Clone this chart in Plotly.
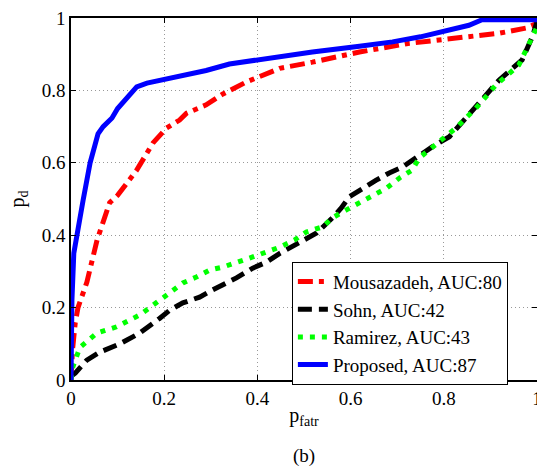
import plotly.graph_objects as go

# ---- data ----
mous_x = [0, 0.003, 0.009, 0.015, 0.034, 0.056, 0.083, 0.10, 0.12, 0.141, 0.176, 0.205, 0.233, 0.248,
          0.29, 0.326, 0.376, 0.448, 0.518, 0.619, 0.726, 0.833, 0.919, 0.976, 1.0]
mous_y = [0, 0.08, 0.157, 0.2, 0.27, 0.387, 0.49, 0.51, 0.544, 0.58, 0.655, 0.696, 0.718, 0.737,
          0.76, 0.79, 0.823, 0.861, 0.878, 0.906, 0.93, 0.944, 0.958, 0.972, 0.985]

sohn_x = [0, 0.009, 0.034, 0.062, 0.105, 0.148, 0.19, 0.212, 0.24, 0.276, 0.304, 0.334, 0.355, 0.39,
          0.42, 0.448, 0.48, 0.505, 0.527, 0.561, 0.58, 0.597, 0.625, 0.655, 0.683, 0.711, 0.743,
          0.775, 0.812, 0.869, 0.919, 0.968, 0.99, 1.0]
sohn_y = [0.01, 0.019, 0.055, 0.077, 0.10, 0.13, 0.17, 0.193, 0.213, 0.229, 0.249, 0.268, 0.282, 0.309,
          0.326, 0.35, 0.373, 0.392, 0.406, 0.448, 0.475, 0.506, 0.53, 0.552, 0.572, 0.588, 0.616,
          0.644, 0.672, 0.754, 0.829, 0.884, 0.948, 0.99]

ram_x = [0, 0.004, 0.019, 0.056, 0.098, 0.148, 0.19, 0.212, 0.24, 0.27, 0.298, 0.326, 0.362, 0.39,
         0.42, 0.448, 0.48, 0.505, 0.54, 0.561, 0.591, 0.619, 0.647, 0.677, 0.705, 0.732, 0.747,
         0.797, 0.826, 0.869, 0.912, 0.961, 0.983, 1.0]
ram_y = [0.0, 0.036, 0.09, 0.13, 0.147, 0.18, 0.22, 0.243, 0.268, 0.285, 0.304, 0.312, 0.326, 0.34,
         0.354, 0.367, 0.387, 0.409, 0.423, 0.448, 0.47, 0.489, 0.506, 0.53, 0.558, 0.58, 0.613,
         0.668, 0.696, 0.751, 0.815, 0.87, 0.931, 0.975]

prop_x = [0, 0.002, 0.006, 0.013, 0.02, 0.026, 0.041, 0.05, 0.058, 0.069, 0.088, 0.10, 0.12, 0.141,
          0.163, 0.2, 0.233, 0.29, 0.34, 0.4, 0.448, 0.518, 0.619, 0.69, 0.75, 0.797, 0.854, 0.882, 1.0]
prop_y = [0, 0.22, 0.35, 0.406, 0.45, 0.497, 0.60, 0.65, 0.68, 0.70, 0.724, 0.75, 0.78, 0.81,
          0.82, 0.83, 0.84, 0.855, 0.873, 0.885, 0.893, 0.906, 0.922, 0.934, 0.948, 0.961, 0.98, 0.995, 0.995]

names = ["Mousazadeh, AUC:80", "Sohn, AUC:42", "Ramirez, AUC:43", "Proposed, AUC:87"]
tick_vals = [0, 0.2, 0.4, 0.6, 0.8, 1]
tick_text = ["0", "0.2", "0.4", "0.6", "0.8", "1"]

FONT = "Liberation Serif, 'Times New Roman', Times, serif"

fig = go.Figure()
fig.add_trace(go.Scatter(x=mous_x, y=mous_y, mode="lines", name=names[0],
                         line=dict(color="#ff0000", width=5, dash="15px,6px,5px,6px")))
fig.add_trace(go.Scatter(x=sohn_x, y=sohn_y, mode="lines", name=names[1],
                         line=dict(color="#000000", width=5, dash="14px,7px")))
fig.add_trace(go.Scatter(x=ram_x, y=ram_y, mode="lines", name=names[2],
                         line=dict(color="#00ff00", width=5, dash="5px,7px")))
fig.add_trace(go.Scatter(x=prop_x, y=prop_y, mode="lines", name=names[3],
                         line=dict(color="#0000ff", width=5)))

axis_common = dict(
    range=[0, 1], tickvals=tick_vals, ticktext=tick_text,
    showline=True, linecolor="black", linewidth=1.5, mirror="ticks",
    ticks="inside", ticklen=5, tickcolor="black",
    showgrid=True, gridcolor="#999999", griddash="1px,3px", gridwidth=1,
    zeroline=False, tickfont=dict(family=FONT, size=19, color="black"),
    automargin=False,
)

fig.update_xaxes(**axis_common, ticklabeloverflow="allow",
                 title=dict(text="p<sub>fatr</sub>", font=dict(family=FONT, size=20, color="black"),
                            standoff=0))
fig.update_yaxes(**axis_common,
                 title=dict(text="p<sub>d</sub>", font=dict(family=FONT, size=20, color="black"),
                            standoff=12))

fig.update_layout(
    width=537, height=466,
    margin=dict(l=71, r=0, t=18, b=86),
    plot_bgcolor="white", paper_bgcolor="white",
    font=dict(family=FONT, size=19, color="black"),
    showlegend=True,
    legend=dict(x=0.474, y=0.327, xanchor="left", yanchor="top",
                bgcolor="white", bordercolor="black", borderwidth=1,
                font=dict(family=FONT, size=19, color="black"),
                tracegroupgap=0, itemwidth=30),
    annotations=[dict(text="(b)", xref="paper", yref="paper", x=0.5, y=-0.21,
                      xanchor="center", yanchor="middle", showarrow=False,
                      font=dict(family=FONT, size=19, color="black"))],
)

fig.write_html("out.html")
